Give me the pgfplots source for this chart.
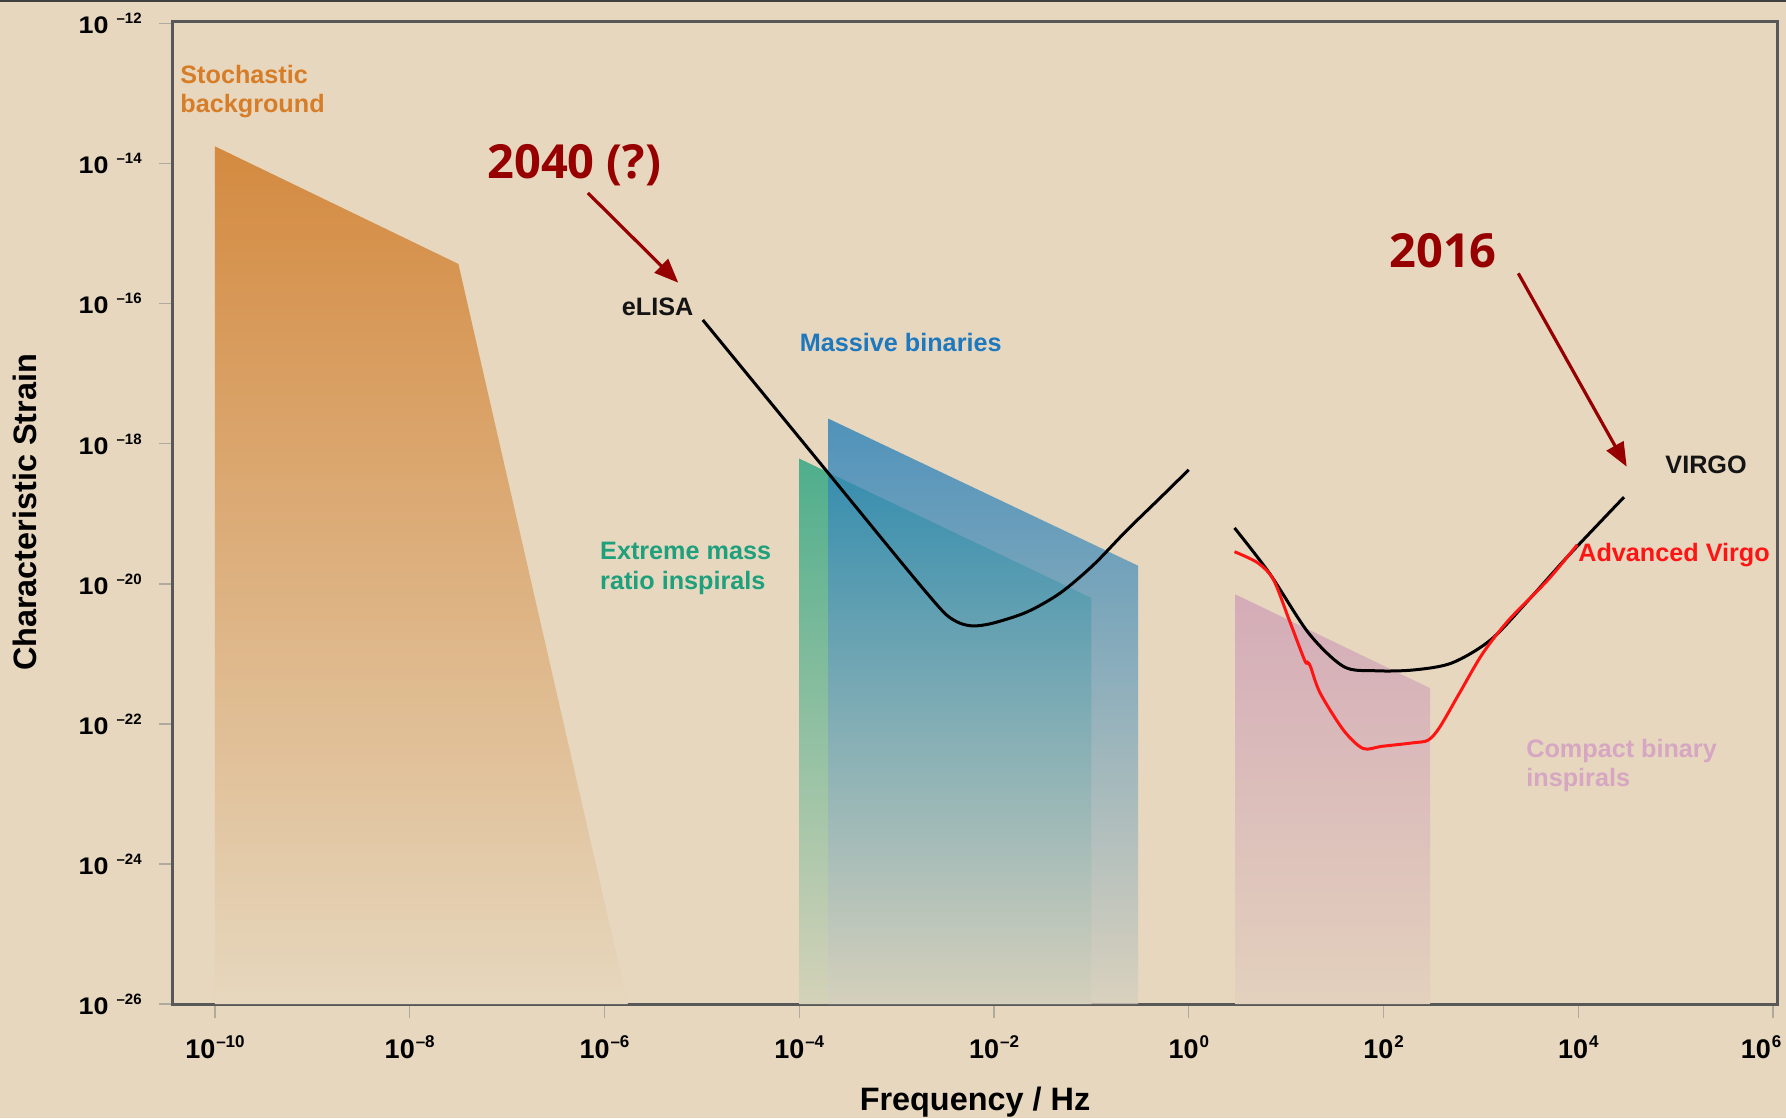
\documentclass[border=0pt]{standalone}
\usepackage{pgfplots}
\pgfplotsset{compat=1.18}
\usetikzlibrary{arrows.meta}
\usepackage{fontspec}
\setmainfont{Liberation Sans}
\newfontfamily\osans{Open Sans}
\definecolor{bgc}{RGB}{230,215,190}
\definecolor{axc}{RGB}{88,88,88}
\definecolor{tickc}{RGB}{175,170,160}
\definecolor{orangec}{RGB}{212,138,64}
\definecolor{greenc}{RGB}{78,174,140}
\definecolor{bluec}{RGB}{30,124,186}
\definecolor{pinkc}{RGB}{212,172,184}
\definecolor{darkredc}{RGB}{150,0,0}
\definecolor{stochtxt}{RGB}{215,125,40}
\definecolor{masstxt}{RGB}{30,120,190}
\definecolor{emritxt}{RGB}{30,160,125}
\definecolor{comptxt}{RGB}{214,166,194}
\definecolor{avred}{RGB}{255,20,20}
\newcommand{\ytl}[1]{\scalebox{1.12}[1]{\fontsize{12}{13}\selectfont\textbf{10}}\hspace{4pt}\raisebox{5pt}{\fontsize{7.5}{8}\selectfont\textbf{#1}}}
\newcommand{\xtl}[1]{\fontsize{13.5}{14}\selectfont\textbf{10}\hspace{0.5pt}\raisebox{5.5pt}{\fontsize{8.5}{9}\selectfont\textbf{#1}}}
\newcommand{\lbl}{\fontsize{12.6}{14}\selectfont\bfseries}
\newcommand{\bigyear}{\fontsize{23.5}{26}\osans\bfseries}
\begin{document}
\begin{tikzpicture}
\path[use as bounding box, fill=bgc] (-86.5pt,-57pt) rectangle (806.5pt,502pt);
\draw[black!75, line width=2pt] (-86.5pt,502pt) -- (806.5pt,502pt);
\begin{axis}[
  scale only axis, width=802pt, height=491.5pt,
  xmode=log, ymode=log,
  xmin=3.707e-11, xmax=1.099e6, ymin=1e-26, ymax=1.096e-12,
  axis line style={draw=axc, line width=1.5pt},
  tick align=outside, tick pos=left, major tick length=7pt,
  tick style={draw=tickc, line width=0.6pt},
  xminorticks=false, yminorticks=false,
  xtick={1e-10,1e-8,1e-6,1e-4,1e-2,1,1e2,1e4,1e6},
  xticklabels={\xtl{\textendash10},\xtl{\textendash8},\xtl{\textendash6},\xtl{\textendash4},\xtl{\textendash2},\xtl{0},\xtl{2},\xtl{4},\hspace*{-12pt}\xtl{6}},
  ytick={1e-26,1e-24,1e-22,1e-20,1e-18,1e-16,1e-14,1e-12},
  yticklabels={\ytl{\textendash26},\ytl{\textendash24},\ytl{\textendash22},\ytl{\textendash20},\ytl{\textendash18},\ytl{\textendash16},\ytl{\textendash14},\ytl{\textendash12}},
  yticklabel style={inner sep=0pt, xshift=-8.5pt},
  xticklabel style={inner sep=0pt, yshift=-8.5pt},
  clip=false,
  xlabel={Frequency / Hz}, ylabel={Characteristic Strain},
  xlabel style={at={(axis description cs:0.5,-0.0997)}, anchor=center, font=\fontsize{16.2}{18}\selectfont\bfseries},
  ylabel style={at={(axis description cs:-0.0923,0.5)}, anchor=center, font=\fontsize{16.2}{18}\selectfont\bfseries},
]
% Stochastic background
\addplot[draw=none, top color=orangec, bottom color=bgc] coordinates {
  (1e-10,1e-26) (1e-10,1.778e-14) (3.162e-8,3.715e-16) (1.738e-6,1e-26)} -- cycle;
% Extreme mass ratio inspirals
\addplot[draw=none, top color=greenc, bottom color=greenc!12!bgc] coordinates {
  (1e-4,1e-26) (1e-4,6.166e-19) (0.1,6.310e-21) (0.1,1e-26)} -- cycle;
% Massive binaries
\addplot[draw=none, fill opacity=0.75, top color=bluec, bottom color=bluec!8!bgc] coordinates {
  (1.995e-4,1e-26) (1.995e-4,2.291e-18) (0.302,1.820e-20) (0.302,1e-26)} -- cycle;
% Compact binary inspirals
\addplot[draw=none, top color=pinkc, bottom color=pinkc!15!bgc] coordinates {
  (3.02,1e-26) (3.02,7.079e-21) (302,3.236e-22) (302,1e-26)} -- cycle;
% eLISA
\addplot[black, line width=1.5pt, smooth, tension=0.5] coordinates {
  (1.023e-5,5.888e-17) (1.259e-4,8.318e-19) (9.333e-4,2.754e-20)
  (2.042e-3,7.413e-21) (3.236e-3,3.631e-21) (4.467e-3,2.754e-21) (6.166e-3,2.512e-21)
  (9.772e-3,2.754e-21) (2.188e-2,3.981e-21) (4.786e-2,7.413e-21) (0.1047,1.862e-20)
  (0.2291,5.754e-20) (0.5012,1.660e-19) (1,4.266e-19)};
% VIRGO
\addplot[black, line width=1.5pt, smooth, tension=0.5] coordinates {
  (2.951,6.310e-20) (6.761,1.413e-20) (16.98,1.995e-21) (38.90,6.607e-22) (81.28,5.754e-22)
  (199.5,5.888e-22) (501.2,7.413e-22) (1259,1.585e-21) (3090,5.888e-21) (7762,2.455e-20) (29510,1.738e-19)};
% Advanced Virgo
\addplot[avred, line width=1.5pt, smooth, tension=0.5] coordinates {
  (2.951,2.884e-20) (5.129,1.995e-20) (7.413,1.148e-20) (10.72,3.090e-21) (15.49,8.128e-22)
  (16.60,7.586e-22) (17.78,6.607e-22) (22.39,2.754e-22) (38.90,8.128e-23) (61.66,4.467e-23)
  (95.50,4.786e-23) (199.5,5.370e-23) (288.4,5.888e-23) (380.2,9.120e-23) (602.6,2.754e-22)
  (1047,1.023e-21) (1950,3.090e-21) (4898,1.148e-20) (9772,3.631e-20)};
% Annotations
\node[anchor=base west, inner sep=0pt, text=stochtxt, font=\lbl] at (rel axis cs:0.0044,0.9369) {Stochastic};
\node[anchor=base west, inner sep=0pt, text=stochtxt, font=\lbl] at (rel axis cs:0.0044,0.9074) {background};
\node[anchor=base west, inner sep=0pt, text=darkredc, font=\bigyear] at (rel axis cs:0.1958,0.8393) {2040 (?)};
\node[anchor=base west, inner sep=0pt, text=darkredc, font=\bigyear] at (rel axis cs:0.7581,0.7497) {2016};
\node[anchor=base west, inner sep=0pt, text=black!92, font=\lbl] at (rel axis cs:0.2796,0.7009) {eLISA};
\node[anchor=base west, inner sep=0pt, text=masstxt, font=\lbl] at (rel axis cs:0.3906,0.6636) {Massive binaries};
\node[anchor=base west, inner sep=0pt, text=emritxt, font=\lbl] at (rel axis cs:0.2661,0.4520) {Extreme mass};
\node[anchor=base west, inner sep=0pt, text=emritxt, font=\lbl] at (rel axis cs:0.2661,0.4212) {ratio inspirals};
\node[anchor=base west, inner sep=0pt, text=black!92, font=\lbl] at (rel axis cs:0.9302,0.5399) {VIRGO};
\node[anchor=base west, inner sep=0pt, text=avred, font=\lbl] at (rel axis cs:0.8759,0.4500) {Advanced Virgo};
\node[anchor=base west, inner sep=0pt, text=comptxt, font=\lbl] at (rel axis cs:0.8435,0.2503) {Compact binary};
\node[anchor=base west, inner sep=0pt, text=comptxt, font=\lbl] at (rel axis cs:0.8435,0.2211) {inspirals};
\draw[darkredc, line width=1.6pt, -{Triangle[length=12pt, width=9.5pt]}] (rel axis cs:0.2587,0.8250) -- (rel axis cs:0.3150,0.7338);
\draw[darkredc, line width=1.6pt, -{Triangle[length=12pt, width=9.5pt]}] (rel axis cs:0.8387,0.7433) -- (rel axis cs:0.9063,0.5466);
\end{axis}
\end{tikzpicture}
\end{document}
